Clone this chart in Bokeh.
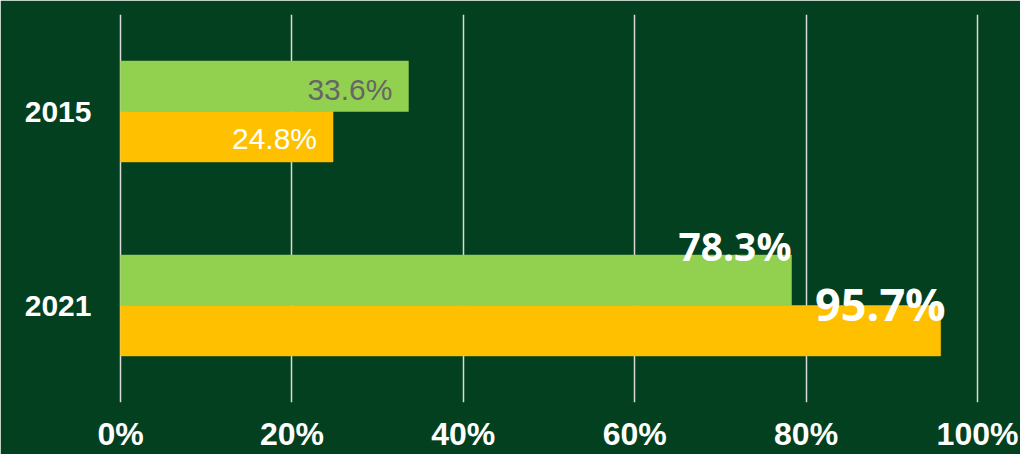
from bokeh.plotting import figure
from bokeh.models import FactorRange, Range1d, FixedTicker, PrintfTickFormatter, ColumnDataSource
from bokeh.transform import dodge
from bokeh.core.properties import value
from bokeh.embed import file_html
from bokeh.resources import INLINE

# ---- data ----
years = ["2015", "2021"]
series_green = [33.6, 78.3]
series_yellow = [24.8, 95.7]
x_ticks = [0, 20, 40, 60, 80, 100]

BG = "#03401f"
GREEN = "#92d050"
YELLOW = "#ffc000"

PAD = 2 / 8.57  # small x padding so the 0% / 100% gridlines sit inside the frame

p = figure(width=1020, height=454, output_backend="svg", toolbar_location=None,
           y_range=FactorRange(factors=["2021", "2015"], range_padding=0),
           x_range=Range1d(-PAD, 100 + PAD),
           min_border_left=118, min_border_right=41, min_border_top=14, min_border_bottom=52)
p.background_fill_color = BG
p.border_fill_color = BG
p.outline_line_color = BG
p.outline_line_width = 2

src = ColumnDataSource(dict(year=years, g=series_green, y=series_yellow))

p.hbar(y=dodge("year", 0.13, range=p.y_range), left=0, right="g", height=0.26,
       source=src, fill_color=GREEN, line_color=GREEN, line_width=0.5)
p.hbar(y=dodge("year", -0.13, range=p.y_range), left=0, right="y", height=0.26,
       source=src, fill_color=YELLOW, line_color=YELLOW, line_width=0.5)

# value labels (styles kept separate from data)
label_styles = {
    ("g", 0): dict(color="#666666", size="30px", font="Liberation Sans", style="normal", dx=-16, dy=3),
    ("y", 0): dict(color="white", size="30px", font="Liberation Sans", style="normal", dx=-16, dy=2),
    ("g", 1): dict(color="white", size="39px", font="Open Sans", style="bold", dx=0, dy=-35),
    ("y", 1): dict(color="white", size="45px", font="Open Sans", style="bold", dx=5, dy=-27),
}
for key, vals, off in (("g", series_green, 0.13), ("y", series_yellow, -0.13)):
    for i, yr in enumerate(years):
        st = label_styles[(key, i)]
        s = ColumnDataSource(dict(x=[vals[i]], yr=[yr], t=[f"{vals[i]}%"]))
        p.text(x="x", y=dodge("yr", off, range=p.y_range), text="t", source=s,
               text_align="right", text_baseline="alphabetic",
               x_offset=st["dx"], y_offset=st["dy"],
               text_color=st["color"], text_font_size=st["size"],
               text_font=value(st["font"]), text_font_style=st["style"])

# axes
p.xaxis.ticker = FixedTicker(ticks=x_ticks)
p.xaxis.formatter = PrintfTickFormatter(format="%d%%")
p.xaxis.axis_line_color = None
p.xaxis.major_tick_line_color = None
p.xaxis.minor_tick_line_color = None
p.xaxis.major_tick_out = 0
p.xaxis.major_tick_in = 0
p.xaxis.major_label_standoff = 13
p.xaxis.major_label_text_color = "white"
p.xaxis.major_label_text_font = "Liberation Sans"
p.xaxis.major_label_text_font_style = "bold"
p.xaxis.major_label_text_font_size = "32px"

p.yaxis.axis_line_color = None
p.yaxis.major_tick_line_color = None
p.yaxis.minor_tick_line_color = None
p.yaxis.major_tick_out = 0
p.yaxis.major_tick_in = 0
p.yaxis.major_label_standoff = 27
p.yaxis.major_label_text_color = "white"
p.yaxis.major_label_text_font = "Liberation Sans"
p.yaxis.major_label_text_font_style = "bold"
p.yaxis.major_label_text_font_size = "30px"

p.xgrid.grid_line_color = "#d9d9d9"
p.xgrid.grid_line_width = 1.5
p.ygrid.grid_line_color = None

html = file_html(p, INLINE)
html = html.replace("<body>", '<body style="margin:0;background:%s">' % BG, 1)
open("out.html", "w").write(html)
